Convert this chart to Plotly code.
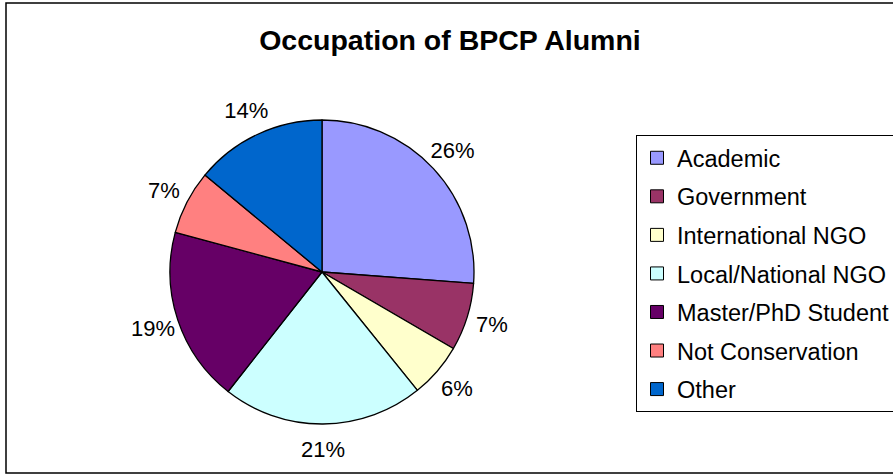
"""
Pie chart: occupation of BPCP alumni
"""
import plotly.graph_objects as go

occupations = ['Academic', 'Government', 'International NGO', 'Local/National NGO',
               'Master/PhD Student', 'Not Conservation', 'Other']
shares = [26.2, 7.2, 5.8, 21.4, 18.6, 6.8, 14.0]
colors = ['#9999FF', '#993366', '#FFFFCC', '#CCFFFF', '#660066', '#FF8080', '#0066CC']

W, H = 893, 476
FONT = 'Liberation Sans, Arial, sans-serif'

# pie geometry in pixels
cx, cy, r = 322, 272, 152
r_ring = 204  # invisible ring round the pie that holds the labels (centred ~178px out)


def pie_domain(radius):
    return dict(x=[(cx - radius) / W, (cx + radius) / W],
                y=[(H - cy - radius) / H, (H - cy + radius) / H])


fig = go.Figure()

# visible pie
fig.add_trace(go.Pie(
    labels=occupations,
    values=shares,
    sort=False,
    direction='clockwise',
    rotation=0,
    marker=dict(colors=colors, line=dict(color='black', width=1.3)),
    textinfo='none',
    showlegend=False,
    hovertemplate='%{label}: %{percent:.0%}<extra></extra>',
    domain=pie_domain(r),
))

# transparent ring that only carries the percentage labels
fig.add_trace(go.Pie(
    labels=occupations,
    values=shares,
    sort=False,
    direction='clockwise',
    rotation=0,
    hole=r / r_ring,
    marker=dict(colors=['rgba(0,0,0,0)'] * len(occupations),
                line=dict(color='rgba(0,0,0,0)', width=0)),
    texttemplate='%{percent:.0%}',
    textposition='inside',
    insidetextorientation='horizontal',
    insidetextfont=dict(family=FONT, size=22, color='black'),
    showlegend=False,
    hoverinfo='skip',
    domain=pie_domain(r_ring),
))

# legend entries
for name, c in zip(occupations, colors):
    fig.add_trace(go.Scatter(
        x=[None], y=[None],
        mode='markers',
        name=name,
        legendgroup=name,
        marker=dict(symbol='square', size=13, color=c,
                    line=dict(color='black', width=1)),
    ))

fig.update_layout(
    width=W,
    height=H,
    margin=dict(l=0, r=0, t=0, b=0, autoexpand=False),
    paper_bgcolor='white',
    plot_bgcolor='white',
    font=dict(family=FONT, color='black'),
    xaxis=dict(visible=False),
    yaxis=dict(visible=False),
    title=dict(
        text='<b>Occupation of BPCP Alumni</b>',
        x=450 / W, xanchor='center',
        y=1 - 40 / H, yanchor='middle',
        font=dict(family=FONT, size=28.5, color='black'),
    ),
    legend=dict(
        x=636 / W, xanchor='left',
        y=1 - 135 / H, yanchor='top',
        bordercolor='black',
        borderwidth=1,
        bgcolor='white',
        font=dict(family=FONT, size=23.5, color='black'),
        tracegroupgap=5,
        itemclick=False,
    ),
    shapes=[dict(
        type='rect', xref='paper', yref='paper',
        x0=6 / W, x1=1.02, y0=3 / H, y1=1 - 3 / H,
        line=dict(color='black', width=1.5),
    )],
)

# page has a default 8px body margin; drop it so the chart sits at 0,0
fig.write_html("out.html", config={'displayModeBar': False},
               post_script="document.body.style.margin='0';")
